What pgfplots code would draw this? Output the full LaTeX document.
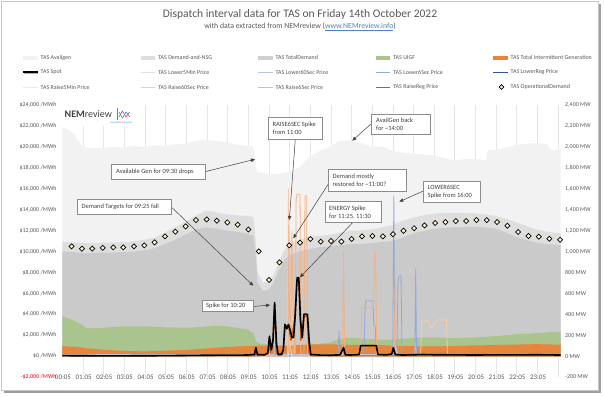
\documentclass[border=0pt]{standalone}
\usepackage{pgfplots}
\pgfplotsset{compat=1.18}
\usepackage{pgfplotstable}
\usetikzlibrary{arrows.meta}
\usepackage{fontspec}
\setmainfont{Carlito}
\definecolor{txt}{HTML}{595959}
\definecolor{anntxt}{HTML}{404040}
\definecolor{boxc}{HTML}{8C8C8C}
\definecolor{gridc}{HTML}{E6E6E6}
\definecolor{linkblue}{HTML}{4A86C8}
\definecolor{cAvail}{HTML}{F2F2F2}
\definecolor{cDNSG}{HTML}{DEDEDE}
\definecolor{cTD}{HTML}{CACACA}
\definecolor{cUIGF}{HTML}{A9C48F}
\definecolor{cTIG}{HTML}{E8853D}
\definecolor{cL5}{HTML}{DAE3F3}
\definecolor{cL60}{HTML}{B4C7E7}
\definecolor{cL6}{HTML}{8FAADC}
\definecolor{cLR}{HTML}{2F5597}
\definecolor{cR5}{HTML}{FBE5D6}
\definecolor{cR60}{HTML}{F8CBAD}
\definecolor{cR6}{HTML}{F4B183}
\definecolor{cRR}{HTML}{C55A11}
\definecolor{mkfill}{HTML}{FFF6D5}

\pgfplotstableread{
h AV DN TD UG TI
0.05 2190 1095 1000 380 95
0.50 2145 1085 995 350 90
1.00 2010 1080 985 300 82
1.20 1996 1080 985 270 75
1.50 1990 1080 985 265 70
2.00 1985 1085 990 270 62
2.50 2000 1085 990 278 55
3.00 1990 1090 995 285 50
3.50 2010 1095 1000 285 48
4.00 2000 1110 1010 285 45
4.50 2015 1130 1030 280 48
5.00 2005 1180 1070 275 52
5.50 2025 1230 1110 272 55
6.00 2030 1280 1160 270 58
6.50 2055 1340 1210 275 65
7.00 2065 1390 1230 282 72
7.50 2055 1375 1220 290 80
8.00 2045 1355 1200 285 86
8.50 2020 1345 1190 270 92
9.00 2010 1340 1170 255 95
9.30 2005 1330 1150 220 98
9.42 1800 1100 950 150 100
9.50 1760 800 700 125 100
9.75 1750 700 625 115 98
10.00 1740 710 630 110 96
10.25 1745 760 690 105 96
10.50 1740 880 800 102 98
10.75 1750 1000 900 100 100
11.00 1760 1060 960 100 100
11.50 1800 1110 1000 105 105
12.00 1900 1140 1020 110 110
12.50 1960 1150 1040 118 112
13.00 2000 1160 1050 130 112
13.50 2060 1180 1060 165 110
14.00 2060 1200 1070 175 106
14.50 2040 1200 1070 168 108
15.00 2000 1210 1080 162 110
15.50 2005 1230 1090 158 105
16.00 1965 1250 1100 155 100
16.50 1945 1290 1130 165 96
17.00 1935 1320 1170 172 95
17.50 1930 1345 1195 178 92
18.00 1920 1360 1215 180 92
18.50 1895 1370 1225 175 94
19.00 1870 1370 1230 172 96
19.50 1880 1368 1232 175 100
20.00 1890 1365 1235 178 102
20.55 1870 1355 1230 184 104
20.65 1970 1350 1228 186 104
21.00 1970 1340 1220 190 106
21.50 1990 1315 1185 200 108
22.00 2020 1280 1140 208 110
22.50 2030 1245 1110 214 112
23.00 2035 1210 1085 220 114
23.50 2030 1190 1070 226 112
23.70 1970 1182 1065 228 111
24.18 1970 1175 1060 230 110
}\areas

\pgfplotstableread{
h OD
0.50 1049
1.00 1027
1.50 1027
2.01 1034
2.52 1039
3.00 1039
3.52 1049
4.02 1058
4.52 1087
5.02 1144
5.52 1189
6.02 1240
6.52 1300
7.04 1306
7.53 1294
8.04 1278
8.54 1256
9.06 1210
9.56 1001
10.06 728
10.56 896
11.04 1058
11.56 1084
12.06 1119
12.56 1094
13.06 1100
13.56 1094
14.06 1119
14.56 1144
15.06 1148
15.57 1144
16.06 1165
16.57 1198
17.08 1222
17.59 1249
18.10 1272
18.60 1281
19.10 1291
19.60 1291
20.10 1300
20.60 1300
21.10 1281
21.60 1246
22.12 1186
22.62 1148
23.12 1141
23.63 1122
24.15 1112
}\opdem

\pgfplotsset{
  base/.style={
    scale only axis, width=498.4bp, height=272bp,
    at={(62.3bp,-377bp)}, anchor=south west,
    xmin=0.05, xmax=24.18,
    axis line style={draw=none},
    major tick length=0pt, minor tick length=0pt,
    scaled y ticks=false, scaled x ticks=false,
  }
}
\newcommand\ylab{\fontsize{6}{7}\selectfont}
\newcommand\legfont{\fontsize{6}{7}\selectfont}
\newcommand\annfont{\fontsize{6.5}{8}\selectfont}
\newcommand\LA[4]{%
  \fill[#3] (#1bp,-#2bp+1.8bp) rectangle ++(14.5bp,-3.6bp);
  \node[anchor=west, inner sep=0pt, font=\legfont, text=txt] at (#1bp+17.5bp,-#2bp) {#4};}
\newcommand\LL[5]{%
  \draw[#3, line width=#4] (#1bp,-#2bp) -- ++(14.5bp,0);
  \node[anchor=west, inner sep=0pt, font=\legfont, text=txt] at (#1bp+17.5bp,-#2bp) {#5};}

\begin{document}
\begin{tikzpicture}
\path (0,0) rectangle (604bp,-397bp);
% frame with shadow
\fill[gray!75] (3.5bp,-3.5bp) rectangle (600.5bp,-393bp);
\filldraw[fill=white, draw=gray!45, line width=0.5bp] (1bp,-1bp) rectangle (598bp,-390bp);

% titles
\node[font=\fontsize{11.6}{13}\selectfont, text=txt] at (300bp,-14bp) {Dispatch interval data for TAS on Friday 14th October 2022};
\node[font=\fontsize{7.8}{9}\selectfont, text=txt] at (300bp,-26.5bp) {with data extracted from NEMreview (\textcolor{linkblue}{\underline{www.NEMreview.info}})};

% legend
\LA{23}{57.7}{cAvail}{TAS Availgen}
\LA{140.6}{57.7}{cDNSG}{TAS Demand-and-NSG}
\LA{258}{57.7}{cTD!90}{TAS TotalDemand}
\LA{375.6}{57.7}{cUIGF}{TAS UIGF}
\LA{493}{57.7}{cTIG}{TAS Total Intermittent Generation}
\draw[gray!60, line width=2bp] (23.5bp,-73.3bp) -- ++(14.5bp,0);
\LL{23}{72.3}{black}{1.8bp}{TAS Spot}
\LL{140.6}{72.3}{cL5}{0.8bp}{TAS Lower5Min Price}
\LL{258}{72.3}{cL60}{0.8bp}{TAS Lower60Sec Price}
\LL{375.6}{72.3}{cL6}{0.8bp}{TAS Lower6Sec Price}
\LL{493}{72.3}{cLR}{0.8bp}{TAS LowerReg Price}
\LL{23}{87}{cR5}{0.8bp}{TAS Raise5Min Price}
\LL{140.6}{87}{cR60}{0.8bp}{TAS Raise60Sec Price}
\LL{258}{87}{cR6}{0.8bp}{TAS Raise6Sec Price}
\LL{375.6}{87}{cRR}{1bp}{TAS RaiseReg Price}
\fill[mkfill, draw=black, line width=0.7bp, rotate around={45:(501.5bp,-87bp)}] (499.8bp,-85.3bp) rectangle (503.2bp,-88.7bp);
\node[anchor=west, inner sep=0pt, font=\legfont, text=txt] at (510.5bp,-87bp) {TAS OperationalDemand};

% ---------- MW axis: areas ----------
\begin{axis}[base, ymin=-200, ymax=2400,
  ytick={-200,0,200,400,600,800,1000,1200,1400,1600,1800,2000,2200,2400},
  yticklabel pos=right,
  yticklabels={{-200 MW},{0 MW},{200 MW},{400 MW},{600 MW},{800 MW},{1,000 MW},{1,200 MW},{1,400 MW},{1,600 MW},{1,800 MW},{2,000 MW},{2,200 MW},{2,400 MW}},
  yticklabel style={anchor=west, inner sep=0pt, xshift=4.3bp, font=\ylab, text=txt},
  xtick={0.0833,1.0833,2.0833,3.0833,4.0833,5.0833,6.0833,7.0833,8.0833,9.0833,10.0833,11.0833,12.0833,13.0833,14.0833,15.0833,16.0833,17.0833,18.0833,19.0833,20.0833,21.0833,22.0833,23.0833},
  xticklabels={00:05,01:05,02:05,03:05,04:05,05:05,06:05,07:05,08:05,09:05,10:05,11:05,12:05,13:05,14:05,15:05,16:05,17:05,18:05,19:05,20:05,21:05,22:05,23:05},
  xticklabel style={anchor=center, inner sep=0pt, font=\fontsize{7}{8}\selectfont, text=txt},
  extra x ticks={1.05,2.05,3.05,4.05,5.05,6.05,7.05,8.05,9.05,10.05,11.05,12.05,13.05,14.05,15.05,16.05,17.05,18.05,19.05,20.05,21.05,22.05,23.05,24.05},
  extra x tick labels={},
  extra x tick style={grid=major, major grid style={draw=gridc, line width=0.5bp}},
]
\addplot[fill=cAvail, draw=none] table[x=h, y=AV] {\areas} \closedcycle;
\addplot[fill=cDNSG, draw=none] table[x=h, y=DN] {\areas} \closedcycle;
\addplot[fill=cTD, draw=none] table[x=h, y=TD] {\areas} \closedcycle;
\addplot[fill=cUIGF, draw=none] table[x=h, y=UG] {\areas} \closedcycle;
\addplot[fill=cTIG, draw=none] table[x=h, y=TI] {\areas} \closedcycle;
\end{axis}

% ---------- $ axis: prices ----------
\begin{axis}[base, ymin=-2000, ymax=24000,
  xtick=\empty,
  ytick={-2000,0,2000,4000,6000,8000,10000,12000,14000,16000,18000,20000,22000,24000},
  yticklabels={{\textcolor{red}{-\$2,000 /MWh}},{\$0 /MWh},{\$2,000 /MWh},{\$4,000 /MWh},{\$6,000 /MWh},{\$8,000 /MWh},{\$10,000 /MWh},{\$12,000 /MWh},{\$14,000 /MWh},{\$16,000 /MWh},{\$18,000 /MWh},{\$20,000 /MWh},{\$22,000 /MWh},{\$24,000 /MWh}},
  yticklabel style={anchor=east, inner sep=0pt, xshift=-5.6bp, font=\ylab, text=txt},
  every axis plot/.append style={line width=0.8bp, line join=round},
]
% Lower5Min
\addplot[cL5] coordinates {(0.05,60)(9.4,60)(9.45,400)(9.5,60)(16.1,60)(16.2,900)(16.3,60)(24.18,60)};
% Lower60Sec
\addplot[cL60] coordinates {(0.05,120)(3,150)(6,150)(9.3,150)(10.3,150)(10.35,1200)(10.4,150)(16.05,150)(16.1,1500)(16.25,150)(17.1,150)(17.15,1200)(17.2,150)(24.18,120)};
% LowerReg
\addplot[cLR] coordinates {(0.05,30)(9.4,30)(9.45,300)(9.5,30)(24.18,30)};
% Lower6Sec
\addplot[cL6] coordinates {(0.05,20)(11.25,20)(11.3,2500)(11.35,20)(13.4,20)(13.45,2450)(13.5,20)(14.65,20)(14.72,5260)(15.1,5260)(15.13,2870)(15.2,2870)(15.25,20)(16.05,20)(16.1,15290)(16.15,20)(16.25,20)(16.3,7000)(16.35,7650)(16.45,7650)(16.5,20)(17.12,20)(17.16,8360)(17.2,20)(24.18,20)};
% Raise5Min
\addplot[cR5] coordinates {(0.05,10)(11.0,10)(11.05,2000)(11.15,10)(24.18,10)};
% Raise60Sec
\addplot[cR60] coordinates {(0.05,10)(10.0,10)(10.05,800)(10.1,10)(10.95,10)(11.0,16000)(11.08,5100)(11.2,5100)(11.22,10)(17.4,10)(17.45,3500)(17.6,3300)(17.75,3510)(17.9,2600)(18.1,3200)(18.3,3500)(18.5,3400)(18.65,3500)(18.7,10)(24.18,10)};
% Raise6Sec
\addplot[cR6] coordinates {(0.05,5)(10.98,5)(11.02,12500)(11.07,200)(11.12,5100)(11.17,11960)(11.21,5100)(11.25,5100)(11.29,200)(11.33,200)(11.37,15000)(11.42,15470)(11.5,15470)(11.56,15470)(11.6,200)(11.75,200)(11.8,15310)(11.88,15310)(11.92,200)(12.1,5)(13.62,5)(13.67,9890)(13.72,5)(14.5,5)(14.55,4630)(15.12,4630)(15.17,9890)(15.22,9890)(15.27,5)(16.12,5)(16.16,7640)(16.2,5)(24.18,5)};
% RaiseReg
\addplot[cRR, line width=1.2bp] coordinates {(0.05,20)(9.38,20)(9.42,700)(9.48,20)(10.02,200)(10.07,1700)(10.12,300)(10.25,1300)(10.32,4900)(10.4,400)(10.5,100)(10.75,500)(10.82,2900)(11.0,2900)(11.12,1500)(11.3,3500)(11.4,7300)(11.5,7300)(11.6,1500)(11.75,3800)(11.9,3800)(12.0,300)(12.1,20)(24.18,20)};
% Spot
\addplot[black, line width=1.6bp] coordinates {(0.05,40)(1,30)(2,20)(3,25)(4,30)(5,40)(6,60)(7,80)(8,90)(9,100)(9.35,150)(9.42,800)(9.5,150)(9.85,120)(10.0,300)(10.08,1900)(10.17,600)(10.25,1500)(10.33,5110)(10.42,1200)(10.5,150)(10.67,150)(10.75,600)(10.83,3030)(10.92,2600)(11.0,3030)(11.08,2500)(11.17,1760)(11.25,1800)(11.33,4000)(11.42,7500)(11.5,7500)(11.58,3500)(11.67,1760)(11.75,4000)(11.92,3990)(12.0,1500)(12.08,150)(12.5,100)(13,80)(13.5,120)(13.67,800)(13.75,120)(14.0,100)(14.42,150)(14.5,1000)(15.25,1000)(15.33,150)(15.75,120)(16.0,200)(16.08,800)(16.17,150)(16.5,100)(17,120)(17.5,150)(18,130)(19,120)(20,100)(21,120)(22,110)(23,130)(24.18,100)};
\end{axis}

% ---------- MW axis: operational demand markers ----------
\begin{axis}[base, ymin=-200, ymax=2400, ticks=none, clip=false]
\addplot[only marks, mark=square*, mark size=1.8bp, mark options={rotate=45, fill=mkfill, draw=black, line width=0.7bp}] table[x=h, y=OD] {\opdem};
\end{axis}

% logo
\fill[white] (62.8bp,-105.5bp) rectangle (133bp,-126bp);
\node[anchor=west, inner sep=0pt, font=\fontsize{10}{11}\selectfont, text=anntxt] at (64.5bp,-114bp) {\textbf{NEM}review};
\node[anchor=west, inner sep=0pt, font=\fontsize{2.5}{3}\selectfont, text=linkblue] at (110bp,-123bp) {www.NEMreview.info};
\draw[linkblue, line width=0.6bp] (117.5bp,-107.5bp) -- (117.5bp,-120bp);
\draw[red!80, line width=0.6bp] (119bp,-117bp) -- (122.5bp,-111bp) -- (126bp,-117bp) -- (129.5bp,-112bp);
\draw[linkblue, line width=0.6bp] (119bp,-112bp) -- (122.5bp,-118bp) -- (126bp,-112bp) -- (130bp,-117bp);

% annotations
\tikzset{annbox/.style={fill=white, draw=boxc, line width=0.5bp},
         annarr/.style={draw=anntxt, line width=0.5bp, -{Triangle[length=4bp,width=3.5bp]}},
         anntext/.style={anchor=west, inner sep=0pt, font=\annfont, text=anntxt, align=left}}
\draw[annarr] (205.7bp,-171.5bp) -- (255bp,-159.3bp);
\filldraw[annbox] (111.7bp,-164bp) rectangle (205.7bp,-179bp);
\node[anntext] at (116bp,-171.5bp) {Available Gen for 09:30 drops};

\draw[annarr] (171bp,-206.7bp) -- (253.3bp,-285.7bp);
\filldraw[annbox] (77.3bp,-199bp) rectangle (171bp,-214.3bp);
\node[anntext] at (81.5bp,-206.7bp) {Demand Targets for 09:25 fall};

\draw[annarr] (295.3bp,-139.3bp) -- (289.3bp,-220bp);
\filldraw[annbox] (268.3bp,-117.3bp) rectangle (322.3bp,-139.3bp);
\node[anntext] at (272.5bp,-128.3bp) {RAISE6SEC Spike\\from 11:00};

\draw[annarr] (371.7bp,-123.3bp) -- (352.3bp,-140.7bp);
\filldraw[annbox] (371.7bp,-114bp) rectangle (430bp,-134.7bp);
\node[anntext] at (376bp,-124.3bp) {AvailGen back\\for \textasciitilde14:00};

\draw[annarr] (329bp,-183bp) -- (293.3bp,-238.3bp);
\filldraw[annbox] (328.3bp,-169.3bp) rectangle (406.7bp,-191bp);
\node[anntext] at (332.5bp,-180.2bp) {Demand mostly\\restored for \textasciitilde11:00?};

\draw[annarr] (352.6bp,-222.7bp) -- (300bp,-277.3bp);
\filldraw[annbox] (325bp,-201.7bp) rectangle (381.7bp,-222.7bp);
\node[anntext] at (329bp,-212.2bp) {ENERGY Spike\\for 11:25, 11:30};

\draw[annarr] (423.3bp,-191bp) -- (399.3bp,-201.7bp);
\filldraw[annbox] (423.3bp,-181bp) rectangle (480.7bp,-202.7bp);
\node[anntext] at (427.5bp,-191.8bp) {LOWER6SEC\\Spike from 16:00};

\draw[annarr] (253.3bp,-306.5bp) -- (270bp,-305bp);
\filldraw[annbox] (202bp,-300bp) rectangle (253.3bp,-311.7bp);
\node[anntext] at (206bp,-305.8bp) {Spike for 10:20};
\end{tikzpicture}
\end{document}
